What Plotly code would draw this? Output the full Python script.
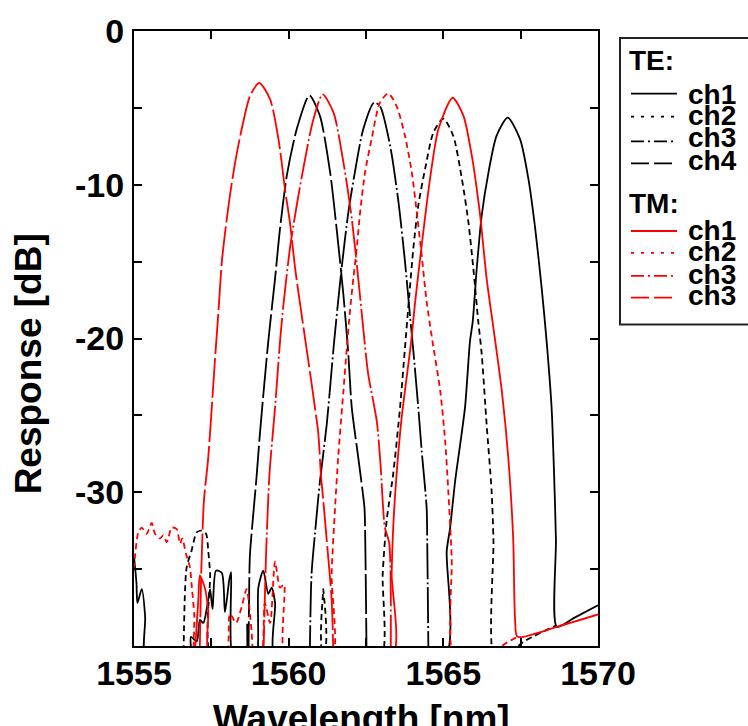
import plotly.graph_objects as go

# ---------------- data ----------------
# TE polarisation (black)
te_ch1_wl = [1555.0, 1555.08, 1555.11, 1555.25, 1555.36, 1555.39, 1556.8, 1556.84, 1557.03, 1557.13,
             1557.24, 1557.4, 1557.46, 1557.54, 1557.65, 1557.84, 1557.94, 1558.08, 1558.14, 1558.21,
             1558.6, 1558.66, 1558.72, 1558.95, 1559.02, 1559.18, 1559.34, 1559.45, 1559.56, 1559.61,
             1565.0, 1565.11, 1565.22, 1565.38, 1565.7, 1565.86, 1565.95, 1566.08, 1566.24, 1566.46,
             1566.72, 1567.08, 1567.48, 1567.75, 1567.97, 1568.18, 1568.34, 1568.5, 1568.58, 1568.64,
             1568.67, 1569.2, 1570.0]
te_ch1_db = [-34.2, -35.9, -37.2, -36.3, -38.1, -41, -41, -39.4, -39.7, -38.3,
             -38.5, -37.0, -36.3, -37.6, -35.1, -35.25, -37.8, -35.7, -35.2, -41,
             -41, -38.6, -41, -41, -36.2, -35.1, -36.6, -36.2, -37.2, -41,
             -41, -33.8, -32.3, -29.3, -24.5, -20.2, -18.9, -15.45, -12.0, -9.19,
             -6.82, -5.63, -7.03, -9.62, -12.86, -16.74, -20.2, -24.5, -28.8, -33.1,
             -38.75, -38.2, -37.35]

te_ch2_wl = [1556.6, 1556.7, 1556.86, 1557.03, 1557.19, 1557.33, 1557.4, 1557.46, 1557.56,
             1561.07, 1561.12, 1561.17,
             1562.95, 1563.04, 1563.17, 1563.38, 1563.6, 1563.76, 1563.9, 1564.03, 1564.19, 1564.41,
             1564.68, 1565.0, 1565.32, 1565.6, 1565.81, 1565.97, 1566.13, 1566.24, 1566.4, 1566.56,
             1566.62, 1566.67, 1567.3, 1567.43, 1568.67]
te_ch2_db = [-41, -34.9, -33.8, -32.6, -32.5, -32.7, -33.8, -35.3, -41,
             -41, -36.3, -41,
             -41, -35.3, -31.8, -28.8, -24.5, -20.6, -17.17, -14.15, -11.35, -8.98,
             -6.6, -5.7, -6.82, -9.62, -12.43, -15.45, -18.9, -21.0, -25.6, -29.9,
             -33.1, -41, -41, -40.0, -38.65]

te_ch3_wl = [1560.68, 1560.74, 1560.85, 1561.01, 1561.23, 1561.47, 1561.71, 1561.93, 1562.14, 1562.41,
             1562.76, 1562.95, 1563.28, 1563.55, 1563.76, 1563.92, 1564.03, 1564.19, 1564.3, 1564.46,
             1564.48, 1564.52]
te_ch3_db = [-41, -35.3, -32.7, -29.3, -25.6, -20.2, -15.45, -11.78, -9.19, -6.39,
             -4.66, -4.88, -7.46, -11.13, -15.0, -18.47, -20.8, -24.5, -27.3, -31.0,
             -33.3, -41]

te_ch4_wl = [1558.70, 1558.73, 1558.75, 1558.97, 1559.07, 1559.34, 1559.56, 1559.72, 1559.94, 1560.26,
             1560.67, 1561.01, 1561.34, 1561.55, 1561.77, 1561.93, 1562.04, 1562.25, 1562.45, 1562.47,
             1562.52]
te_ch4_db = [-41, -35.3, -34.0, -28.8, -26.2, -20.2, -16.1, -12.86, -9.41, -6.39,
             -4.19, -5.52, -9.19, -12.86, -17.17, -21.05, -24.5, -27.75, -31.0, -32.3,
             -41]

# TM polarisation (red)
tm_ch1_wl = [1556.95, 1557.08, 1557.13, 1557.3, 1557.4, 1557.51,
             1563.3, 1563.33, 1563.38, 1563.49, 1563.65, 1563.96, 1564.09, 1564.3, 1564.57, 1564.84,
             1565.3, 1565.65, 1565.92, 1566.19, 1566.4, 1566.62, 1566.89, 1567.1, 1567.26, 1567.32,
             1567.4, 1568.67, 1570.0]
tm_ch1_db = [-41, -37.0, -35.4, -36.3, -37.7, -41,
             -41, -35.3, -32.3, -28.8, -25.2, -20.2, -17.6, -13.94, -9.62, -6.39,
             -4.34, -5.52, -8.11, -12.0, -16.1, -19.33, -23.4, -27.75, -33.1, -38.3,
             -39.4, -38.75, -37.95]

tm_ch2_wl = [1555.0, 1555.03, 1555.14, 1555.25, 1555.41, 1555.57, 1555.68, 1555.84, 1555.95, 1556.06,
             1556.22, 1556.38, 1556.49, 1556.56, 1556.68, 1556.81, 1556.86, 1556.95, 1557.02,
             1557.95, 1558.1, 1558.3, 1558.48, 1558.64, 1558.8, 1558.9, 1559.1, 1559.23, 1559.4,
             1559.56, 1559.72, 1559.85, 1559.91,
             1561.38, 1561.39, 1561.5, 1561.6, 1561.77, 1561.88, 1561.98, 1562.09, 1562.2, 1562.31,
             1562.47, 1562.68, 1562.95, 1563.22, 1563.49, 1563.76, 1563.98, 1564.14, 1564.3, 1564.46,
             1564.65, 1564.9, 1565.06, 1565.16, 1565.27, 1565.38, 1566.6, 1566.9, 1567.4]
tm_ch2_db = [-35.0, -34.2, -32.6, -32.3, -32.7, -32.0, -32.7, -33.0, -32.8, -33.25,
             -32.3, -32.4, -33.35, -33.0, -34.0, -34.9, -35.95, -38.0, -41,
             -41, -37.9, -38.5, -37.45, -36.3, -39.0, -41, -41, -37.2, -38.5,
             -34.5, -36.2, -36.0, -41,
             -41, -35.3, -31.0, -27.75, -23.4, -20.6, -18.25, -16.1, -14.15, -11.78,
             -9.19, -7.03, -4.66, -4.06, -4.88, -6.82, -9.19, -11.78, -14.58, -17.6,
             -20.2, -23.4, -26.7, -29.9, -34.2, -41, -41, -40.0, -39.4]

tm_ch3_wl = [1559.18, 1559.27, 1559.38, 1559.56, 1559.72, 1559.83, 1560.04, 1560.26, 1560.53, 1560.8,
             1561.1, 1561.45, 1561.77, 1562.04, 1562.25, 1562.41, 1562.57, 1562.85, 1562.97, 1563.11,
             1563.25, 1563.3]
tm_ch3_db = [-41, -34.0, -28.8, -24.5, -20.2, -17.82, -14.15, -11.35, -8.33, -5.74,
             -4.12, -5.31, -8.54, -12.2, -16.1, -19.33, -22.3, -25.4, -28.2, -32.3,
             -33.3, -41]

tm_ch4_wl = [1557.12, 1557.17, 1557.19, 1557.26, 1557.40, 1557.62, 1557.73, 1557.84, 1557.96, 1558.10,
             1558.27, 1558.48, 1558.75, 1559.05, 1559.40, 1559.67, 1559.88, 1560.04, 1560.21, 1560.42,
             1560.64, 1560.85, 1560.96, 1561.04, 1561.12, 1561.23, 1561.39, 1561.45]
tm_ch4_db = [-41, -35.5, -34.2, -30.55, -27.75, -21.3, -18.25, -15.0, -12.86, -10.7,
             -8.54, -6.39, -4.23, -3.37, -4.45, -7.03, -10.27, -12.43, -15.45, -18.47,
             -21.5, -24.5, -26.2, -28.8, -30.55, -33.1, -37.0, -41]

x_tick_vals = [1555, 1557.5, 1560, 1562.5, 1565, 1567.5, 1570]
x_tick_text = ["1555", "", "1560", "", "1565", "", "1570"]
y_tick_vals = [-40, -35, -30, -25, -20, -15, -10, -5, 0]
y_tick_text = ["", "", "-30", "", "-20", "", "-10", "", "0"]

legend_te = ["ch1", "ch2", "ch3", "ch4"]
legend_tm = ["ch1", "ch2", "ch3", "ch3"]

# ---------------- styling ----------------
BLACK = "#000000"
RED = "#ff0000"
FONT = "Liberation Sans"
plot_dash = ["solid", "6px,4px", "36px,3px,2px,3px", "40px,4px"]
legend_dash = ["solid", "3px,7px", "13px,4px,2px,4px", "18px,5px"]

W, H = 748, 726
L, R, T, B = 134, 598, 28, 646   # plot area in pixels


def px(xp):
    return (xp - L) / (R - L)


def py(yp):
    return (B - yp) / (B - T)


fig = go.Figure()
te = [(te_ch1_wl, te_ch1_db), (te_ch2_wl, te_ch2_db), (te_ch3_wl, te_ch3_db), (te_ch4_wl, te_ch4_db)]
tm = [(tm_ch1_wl, tm_ch1_db), (tm_ch2_wl, tm_ch2_db), (tm_ch3_wl, tm_ch3_db), (tm_ch4_wl, tm_ch4_db)]
for i, (xw, yd) in enumerate(te):
    fig.add_trace(go.Scatter(x=xw, y=yd, mode="lines", name="TE " + legend_te[i], showlegend=False,
                             line=dict(color=BLACK, width=1.8, dash=plot_dash[i],
                                       shape="spline", smoothing=0.7)))
for i, (xw, yd) in enumerate(tm):
    fig.add_trace(go.Scatter(x=xw, y=yd, mode="lines", name="TM " + legend_tm[i], showlegend=False,
                             line=dict(color=RED, width=1.8, dash=plot_dash[i],
                                       shape="spline", smoothing=0.7)))

shapes = []
annotations = []
# legend frame
shapes.append(dict(type="rect", xref="paper", yref="paper", x0=px(620), x1=px(770), y0=py(323), y1=py(35),
                   line=dict(color="#222222", width=2), fillcolor="rgba(0,0,0,0)", layer="above"))
lfont = dict(family=FONT, size=28, color=BLACK, weight="bold")
annotations.append(dict(text="TE:", xref="paper", yref="paper", x=px(627), y=py(58), xanchor="left",
                        yanchor="middle", showarrow=False, font=lfont))
annotations.append(dict(text="TM:", xref="paper", yref="paper", x=px(627), y=py(201), xanchor="left",
                        yanchor="middle", showarrow=False, font=lfont))
te_line_y = [91, 114, 139, 161]
te_text_y = [91.5, 112.5, 135.5, 158]
tm_line_y = [229, 251, 274, 296]
tm_text_y = [228, 250, 273, 294]
for i in range(4):
    shapes.append(dict(type="line", xref="paper", yref="paper", x0=px(631), x1=px(677),
                       y0=py(te_line_y[i]), y1=py(te_line_y[i]),
                       line=dict(color=BLACK, width=1.8, dash=legend_dash[i])))
    annotations.append(dict(text=legend_te[i], xref="paper", yref="paper", x=px(686), y=py(te_text_y[i]),
                            xanchor="left", yanchor="middle", showarrow=False, font=lfont))
    shapes.append(dict(type="line", xref="paper", yref="paper", x0=px(631), x1=px(677),
                       y0=py(tm_line_y[i]), y1=py(tm_line_y[i]),
                       line=dict(color=RED, width=1.8, dash=legend_dash[i])))
    annotations.append(dict(text=legend_tm[i], xref="paper", yref="paper", x=px(686), y=py(tm_text_y[i]),
                            xanchor="left", yanchor="middle", showarrow=False, font=lfont))

tfont = dict(family=FONT, size=37, color=BLACK, weight="bold")
annotations.append(dict(text="Wavelength [nm]", xref="paper", yref="paper", x=px(361), y=py(696),
                        xanchor="center", yanchor="top", showarrow=False, font=tfont))
annotations.append(dict(text="Response [dB]", xref="paper", yref="paper", x=px(28), y=py(363),
                        xanchor="center", yanchor="middle", textangle=-90, showarrow=False, font=tfont))

tick_font = dict(family=FONT, size=34, color=BLACK, weight="bold")
fig.update_layout(
    width=W, height=H,
    margin=dict(l=L, r=W - R, t=T, b=H - B, pad=0),
    paper_bgcolor="white", plot_bgcolor="white",
    showlegend=False,
    shapes=shapes, annotations=annotations,
    xaxis=dict(range=[1555, 1570], tickvals=x_tick_vals, ticktext=x_tick_text, ticks="inside",
               ticklen=8, tickwidth=1.5, tickcolor=BLACK, showline=True, linecolor=BLACK, linewidth=2,
               mirror="allticks", showgrid=False, zeroline=False, tickfont=tick_font,
               ticklabelstandoff=-4),
    yaxis=dict(range=[-40, 0], tickvals=y_tick_vals, ticktext=y_tick_text, ticks="inside",
               ticklen=8, tickwidth=1.5, tickcolor=BLACK, showline=True, linecolor=BLACK, linewidth=2,
               mirror="allticks", showgrid=False, zeroline=False, tickfont=tick_font,
               ticklabelstandoff=1),
)

fig.write_html("out.html")
